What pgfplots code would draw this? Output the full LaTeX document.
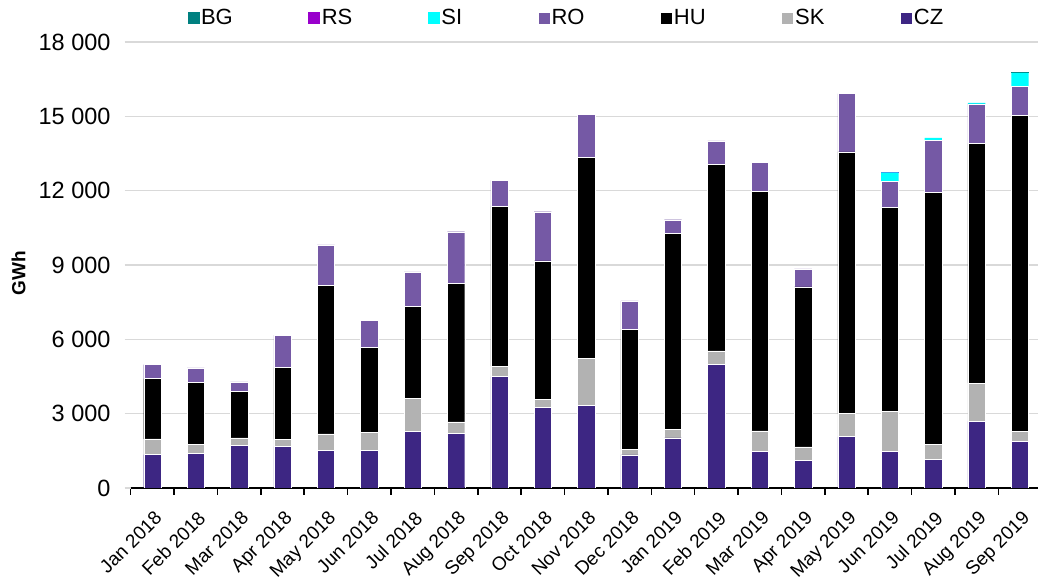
\documentclass[border=0pt]{standalone}
\usepackage{pgfplots}
\usepackage{pgfplotstable}
\pgfplotsset{compat=1.18}
\usepackage{fontspec}
\setmainfont{Liberation Sans}
\definecolor{cBG}{RGB}{0,128,128}
\definecolor{cRS}{RGB}{153,0,204}
\definecolor{cSI}{RGB}{0,255,255}
\definecolor{cRO}{RGB}{117,89,165}
\definecolor{cHU}{RGB}{0,0,0}
\definecolor{cSK}{RGB}{178,178,178}
\definecolor{cCZ}{RGB}{61,38,131}
\definecolor{gridc}{RGB}{217,217,217}

\pgfplotstableread{
x  CZ   SK   HU    RO   SI  RS BG
0  1345 635  2436  565  0   0  0
1  1386 378  2491  593  0   0  0
2  1710 310  1872  390  0   0  0
3  1670 296  2896  1306 0   0  0
4  1522 660  5991  1644 0   0  0
5  1522 727  3420  1105 0   0  0
6  2276 1333 3718  1399 0   0  0
7  2195 471  5603  2073 0   0  0
8  4498 417  6451  1050 0   0  0
9  3259 323  5589  1979 0   0  0
10 3326 1913 8106  1738 0   0  0
11 1333 229  4835  1158 0   0  0
12 2020 337  7918  552  0   0  0
13 4983 552  7514  956  0   0  0
14 1468 835  9669  1171 0   0  0
15 1104 552  6464  728  0   0  0
16 2074 929  10559 2356 0   0  0
17 1481 1603 8240  1051 363 30 0
18 1145 606  10195 2073 108 0  0
19 2693 1536 9682  1589 40  0  0
20 1872 418  12751 1172 541 0  30
}\data

\begin{document}
\begin{tikzpicture}
\begin{axis}[
  scale only axis, width=911pt, height=446pt,
  ybar stacked, bar width=0.4,
  legend image code/.code={\fill[#1] (0pt,-6pt) rectangle (12pt,6pt);},
  xmin=-0.5, xmax=20.5, ymin=0, ymax=18000,
  scaled y ticks=false,
  axis x line*=bottom, axis y line*=left,
  x axis line style={black, line width=1.5pt, -},
  y axis line style={draw=none},
  tick align=outside,
  xtick={0,...,20},
  xticklabels={Jan 2018,Feb 2018,Mar 2018,Apr 2018,May 2018,Jun 2018,Jul 2018,Aug 2018,Sep 2018,Oct 2018,Nov 2018,Dec 2018,Jan 2019,Feb 2019,Mar 2019,Apr 2019,May 2019,Jun 2019,Jul 2019,Aug 2019,Sep 2019},
  major x tick style={draw=none},
  minor xtick={-0.5,0.5,1.5,2.5,3.5,4.5,5.5,6.5,7.5,8.5,9.5,10.5,11.5,12.5,13.5,14.5,15.5,16.5,17.5,18.5,19.5,20.5},
  minor x tick style={black, line width=1.5pt},
  minor tick length=7pt,
  x tick label style={rotate=45, anchor=north east, font=\fontsize{19}{21}\selectfont, inner sep=0pt, xshift=-10.3pt, yshift=-12pt},
  ytick={0,3000,6000,9000,12000,15000,18000},
  yticklabels={0,3 000,6 000,9 000,12 000,15 000,18 000},
  major y tick style={gridc, line width=1.2pt},
  major tick length=6pt,
  y tick label style={font=\fontsize{23.5}{25}\selectfont, inner sep=0pt, xshift=-14pt},
  ymajorgrids, major grid style={gridc, line width=1.3pt},
  ylabel={\bfseries GWh},
  every axis y label/.style={at={(axis description cs:0,0.5)}, xshift=-112pt, yshift=-8pt, rotate=90, anchor=center, font=\fontsize{19}{21}\selectfont},
  legend columns=7,
  reverse legend,
  legend style={draw=none, fill=none, at={(axis description cs:0.478,1)}, anchor=center, yshift=24pt,
    font=\fontsize{22}{24}\selectfont, nodes={inner xsep=1.5pt},
    /tikz/every even column/.append style={column sep=74pt}},
]
\addplot[fill=cCZ, draw=white, line width=0.4pt] table[x=x,y=CZ]{\data};
\addplot[fill=cSK, draw=white, line width=0.4pt] table[x=x,y=SK]{\data};
\addplot[fill=cHU, draw=white, line width=0.4pt] table[x=x,y=HU]{\data};
\addplot[fill=cRO, draw=white, line width=0.4pt] table[x=x,y=RO]{\data};
\addplot[fill=cSI, draw=none] table[x=x,y=SI]{\data};
\addplot[fill=cRS, draw=none] table[x=x,y=RS]{\data};
\addplot[fill=cBG, draw=none] table[x=x,y=BG]{\data};
\legend{CZ,SK,HU,RO,SI,RS,BG}
\end{axis}
\pgfresetboundingbox
\useasboundingbox (-130.7pt,-92pt) rectangle (907.3pt,488pt);
\end{tikzpicture}
\end{document}
